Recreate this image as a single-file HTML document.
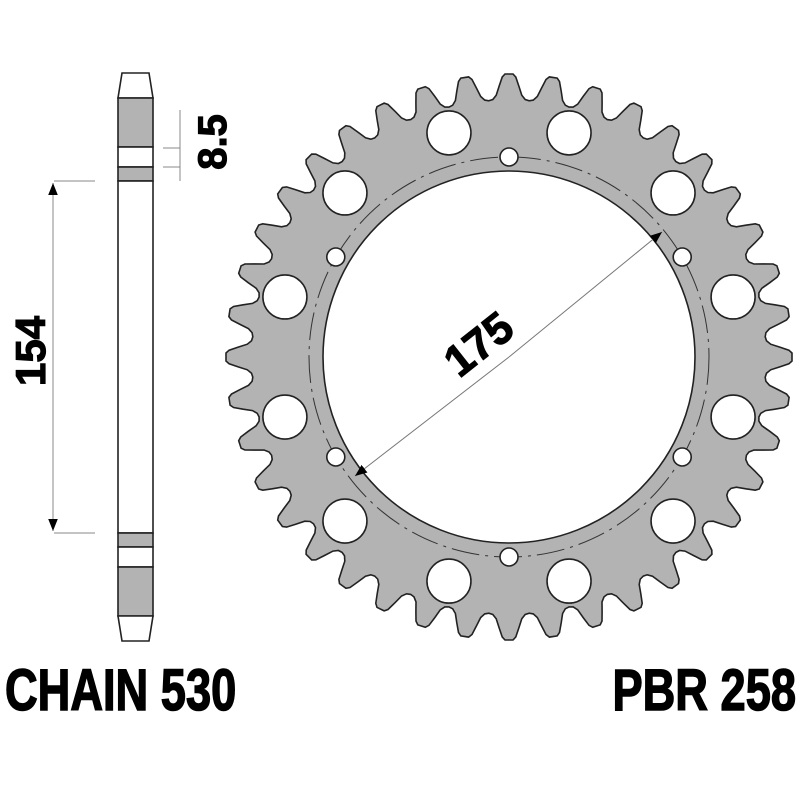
<!DOCTYPE html>
<html><head><meta charset="utf-8"><style>
html,body{margin:0;padding:0;background:#fff;}
svg{display:block}
.b{font-family:"Liberation Sans",sans-serif;font-weight:700;}
</style></head><body>
<svg id="s" width="800" height="800" viewBox="0 0 800 800" xmlns="http://www.w3.org/2000/svg">
<defs>
<marker id="ar" viewBox="0 0 10 10" refX="10" refY="5" markerWidth="12" markerHeight="12" markerUnits="userSpaceOnUse" orient="auto"><path d="M0,1 L10,5 L0,9 z" fill="#000"/></marker>
</defs>
<path id="sp" fill="#b3b3b3" stroke="#222" stroke-width="1.6" fill-rule="evenodd" d=""/>
<circle cx="509" cy="357" r="200" fill="none" stroke="#333" stroke-width="1" stroke-dasharray="28,6,3,6"/>
<g id="holes" fill="#fff" stroke="#222" stroke-width="1.6"></g>
<line x1="509" y1="357" x2="662" y2="232" stroke="#777" stroke-width="1" marker-end="url(#ar)"/>
<line x1="509" y1="357" x2="355" y2="476" stroke="#777" stroke-width="1" marker-end="url(#ar)"/>
<text class="b" transform="translate(488,356) rotate(-38.4)" font-size="44" stroke="#000" stroke-width="1.2" text-anchor="middle">175</text>
<g stroke="#222" stroke-width="1.6">
<path d="M122,73 L149,73 L153,98 L118,98 Z" fill="#fff"/>
<rect x="118" y="98" width="35" height="49" fill="#b3b3b3"/>
<rect x="118" y="147" width="35" height="20" fill="#fff"/>
<rect x="118" y="167" width="35" height="14" fill="#b3b3b3"/>
<rect x="118" y="181" width="35" height="352" fill="#fff"/>
<rect x="118" y="533" width="35" height="14" fill="#b3b3b3"/>
<rect x="118" y="547" width="35" height="20" fill="#fff"/>
<rect x="118" y="567" width="35" height="49" fill="#b3b3b3"/>
<path d="M118,616 L153,616 L149,641 L122,641 Z" fill="#fff"/>
</g>
<g stroke="#888" stroke-width="1">
<line x1="180" y1="110" x2="180" y2="181"/>
<line x1="163" y1="148" x2="180" y2="148"/>
<line x1="163" y1="167" x2="180" y2="167"/>
<line x1="54" y1="181" x2="95" y2="181"/>
<line x1="54" y1="533" x2="95" y2="533"/>
<line x1="53" y1="357" x2="53" y2="183" marker-end="url(#ar)"/>
<line x1="53" y1="357" x2="53" y2="531" marker-end="url(#ar)"/>
</g>
<text class="b" transform="translate(226,142) rotate(-90)" font-size="40" stroke="#000" stroke-width="1.2" text-anchor="middle">8.5</text>
<text class="b" transform="translate(45,351) rotate(-90)" font-size="42" stroke="#000" stroke-width="1.2" text-anchor="middle">154</text>
<text class="b" transform="translate(5,710) scale(0.78,1)" font-size="58" stroke="#000" stroke-width="1.5">CHAIN 530</text>
<text class="b" transform="translate(796,710) scale(0.78,1)" font-size="58" stroke="#000" stroke-width="1.5" text-anchor="end">PBR 258</text>
</svg>
<script>
(function(){
var cx=509,cy=357,N=40,d="";
var prof=[[-4.5,257],[-3.6,258],[-2.8,262],[-2.1,271],[-1.4,280],[-0.8,283],[0.8,283],[1.4,280],[2.1,271],[2.8,262],[3.6,258]];
var pts=[];
for(var i=0;i<N;i++){var base=i*9;
 for(var j=0;j<prof.length;j++){var a=(base+prof[j][0])*Math.PI/180,r=prof[j][1];
  pts.push([cx+r*Math.sin(a),cy-r*Math.cos(a)]);}}
d="M"+pts.map(function(p){return p[0].toFixed(1)+","+p[1].toFixed(1)}).join(" L")+" Z ";
var R=186;
d+="M"+(cx+R)+","+cy+" A"+R+","+R+" 0 1,0 "+(cx-R)+","+cy+" A"+R+","+R+" 0 1,0 "+(cx+R)+","+cy+" Z";
document.getElementById("sp").setAttribute("d",d);
var g=document.getElementById("holes"),ns="http://www.w3.org/2000/svg",k,a,c;
for(k=0;k<12;k++){a=(15+30*k)*Math.PI/180;c=document.createElementNS(ns,"circle");
 c.setAttribute("cx",cx+232*Math.sin(a));c.setAttribute("cy",cy-232*Math.cos(a));c.setAttribute("r",22);g.appendChild(c);}
for(k=0;k<6;k++){a=(60*k)*Math.PI/180;c=document.createElementNS(ns,"circle");
 c.setAttribute("cx",cx+200*Math.sin(a));c.setAttribute("cy",cy-200*Math.cos(a));c.setAttribute("r",9);g.appendChild(c);}
})();
</script>
</body></html>
